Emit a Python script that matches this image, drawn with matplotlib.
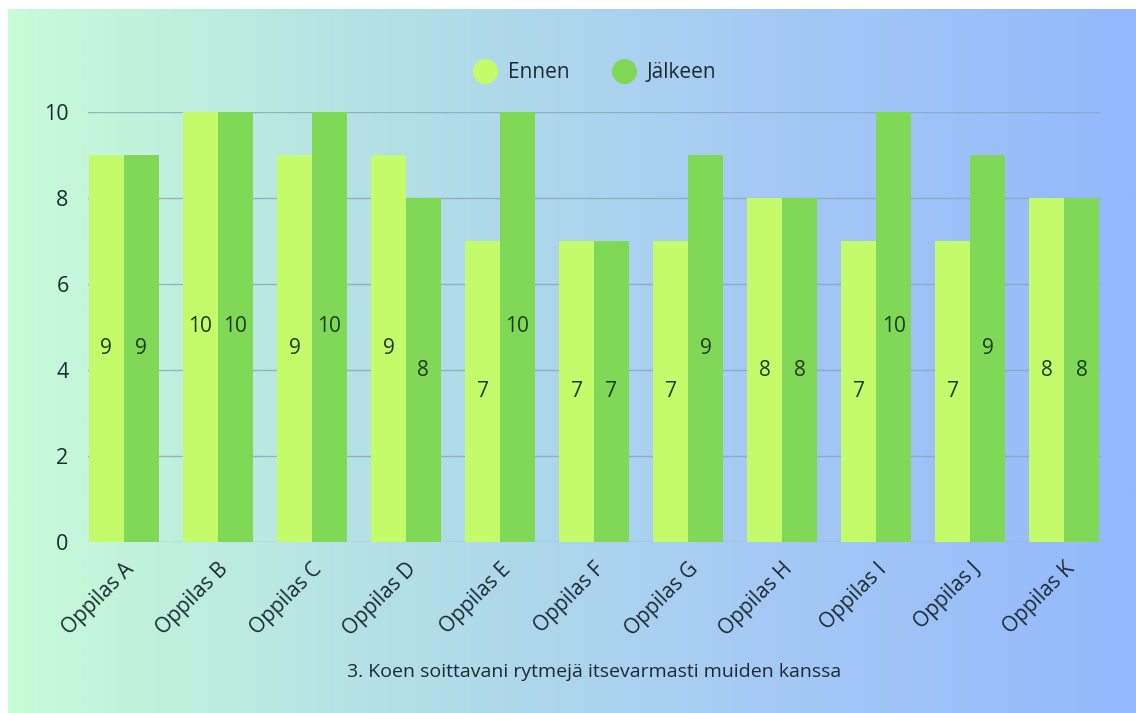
import numpy as np
import matplotlib
matplotlib.use("Agg")
import matplotlib.pyplot as plt
from matplotlib.colors import LinearSegmentedColormap
from matplotlib.lines import Line2D

categories = ["Oppilas A", "Oppilas B", "Oppilas C", "Oppilas D", "Oppilas E", "Oppilas F",
              "Oppilas G", "Oppilas H", "Oppilas I", "Oppilas J", "Oppilas K"]
ennen = [9, 10, 9, 9, 7, 7, 7, 8, 7, 7, 8]
jalkeen = [9, 10, 10, 8, 10, 7, 9, 8, 10, 9, 8]
series_names = ["Ennen", "Jälkeen"]
yticks = [0, 2, 4, 6, 8, 10]
xlabel = "3. Koen soittavani rytmejä itsevarmasti muiden kanssa"

c_ennen = "#c4fb6a"
c_jalkeen = "#7fd957"
text_col = "#1c2b33"

plt.rcParams['font.family'] = ['Open Sans', 'DejaVu Sans']

W, H = 1136, 713
fig = plt.figure(figsize=(W / 100, H / 100), dpi=100)
fig.patch.set_facecolor("white")

# gradient background
bg = fig.add_axes([8 / W, 0, 1 - 8 / W, 1 - 9 / H])
cmap = LinearSegmentedColormap.from_list("bg", ["#c8fcd7", "#b3e0e6", "#a6caf4", "#93b8fc"])
grad = np.linspace(0, 1, 512).reshape(1, -1)
bg.imshow(grad, aspect="auto", cmap=cmap, extent=[0, 1, 0, 1])
bg.set_axis_off()

ax = fig.add_axes([88 / W, 1 - 542 / H, (1100 - 88) / W, (542 - 112) / H])
ax.patch.set_alpha(0)

x = np.arange(len(categories))
bw = 0.37
b1 = ax.bar(x - bw / 2, ennen, bw, color=c_ennen, zorder=3)
b2 = ax.bar(x + bw / 2, jalkeen, bw, color=c_jalkeen, zorder=3)
for b in (b1, b2):
    ax.bar_label(b, label_type="center", fontsize=15, color="#1e3a1e")

ax.set_xlim(-0.38, len(categories) - 1 + 0.38)
ax.set_ylim(0, 10)
ax.set_yticks(yticks)
ax.yaxis.grid(True, color="#86a6b8", linewidth=1, alpha=0.8, zorder=0)
for s in ax.spines.values():
    s.set_visible(False)
ax.tick_params(axis="both", length=0, colors=text_col)
ax.tick_params(axis="y", pad=14, labelsize=15.5)
ax.set_xticks(x)
ax.set_xticklabels(categories, rotation=45, ha="right", rotation_mode="anchor", fontsize=15)
ax.tick_params(axis="x", pad=12)
ax.set_xlabel(xlabel, fontsize=14, color=text_col, labelpad=16)

handles = [Line2D([], [], marker="o", linestyle="", markersize=17, color=c) for c in (c_ennen, c_jalkeen)]
fig.legend(handles, series_names, loc="center", bbox_to_anchor=(590 / W, 1 - 73 / H), ncol=2,
           frameon=False, fontsize=15, labelcolor=text_col, handletextpad=0.1, columnspacing=1.6)

fig.savefig("out.png", dpi=100)
